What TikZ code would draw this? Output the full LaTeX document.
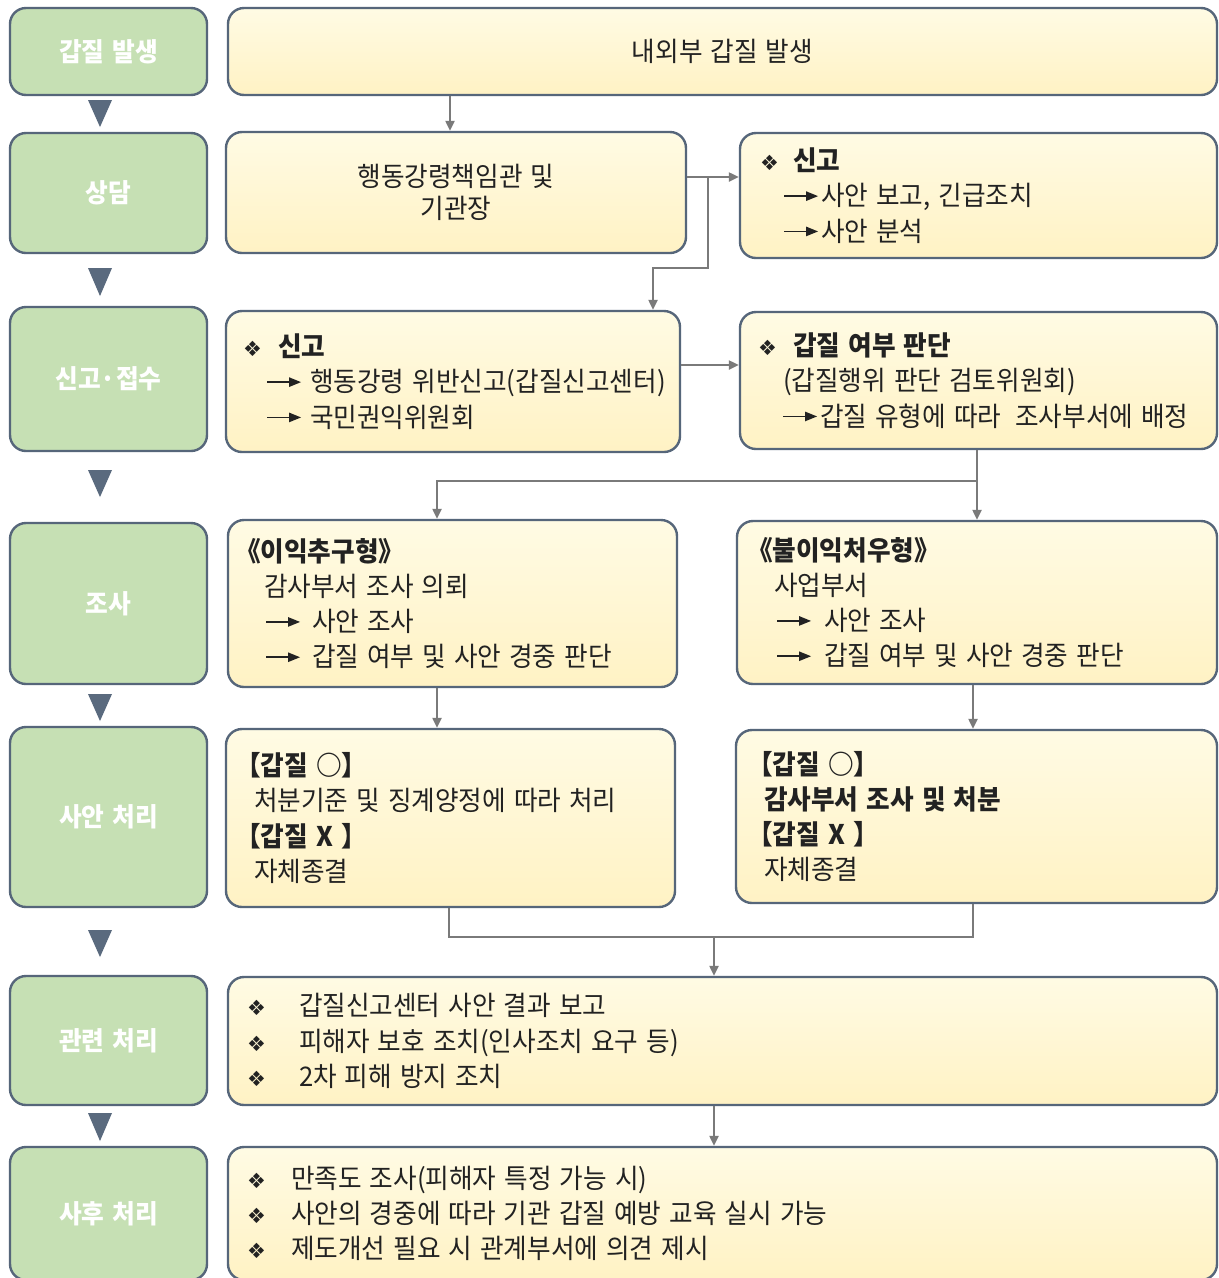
\documentclass[tikz,border=0pt]{standalone}
\usepackage{fontspec}
\setmainfont{Noto Sans CJK KR}[FakeStretch=0.95, WordSpace=1.4]
\newfontfamily\symfont{DejaVu Sans}
\usetikzlibrary{arrows.meta,calc}
\definecolor{gfill}{HTML}{C6E0B4}
\definecolor{bord}{HTML}{56667A}
\definecolor{ytop}{HTML}{FFFBE4}
\definecolor{ybot}{HTML}{FFF2C4}
\definecolor{tri}{HTML}{5A6A7E}
\definecolor{conc}{HTML}{7A7A7A}
\definecolor{txt}{HTML}{222222}
\newcommand\dia{{\symfont\fontsize{21}{21}\selectfont ❖}}
\newcommand\arr{\tikz[baseline=0pt,x=1pt,y=1pt]{\fill[txt] (0,8.8) rectangle (24,10.6); \fill[txt] (22,4.8) -- (34,9.7) -- (22,14.6) -- cycle;}}
\begin{document}
\begin{tikzpicture}[x=1pt,y=-1pt,
  stage/.style={draw=bord, line width=2.4pt, fill=gfill, rounded corners=16pt,
    minimum width=197pt, text=white, inner sep=0pt,
    font=\fontsize{26}{30}\selectfont\bfseries},
  ybox/.style={draw=bord, line width=2.4pt, top color=ytop, bottom color=ybot,
    rounded corners=16pt, text=txt, inner sep=0pt, align=center,
    font=\fontsize{27}{32}\selectfont},
  tx/.style={anchor=west, align=left, inner sep=0pt, text=txt,
    font=\fontsize{27}{35.3}\selectfont},
  conn/.style={draw=conc, line width=2.2pt, -{Triangle[length=10pt,width=9pt]}},
  plainconn/.style={draw=conc, line width=2.2pt}]
\fill[white] (0,0) rectangle (1219,1278);
\useasboundingbox (0,0) rectangle (1219,1278);

% stage column
\node[stage, minimum height=87pt]  (g1) at (108.5,51.5)  {갑질 발생};
\node[stage, minimum height=120pt] (g2) at (108.5,193)   {상담};
\node[stage, minimum height=144pt] (g3) at (108.5,379)   {신고·접수};
\node[stage, minimum height=161pt] (g4) at (108.5,603.5) {조사};
\node[stage, minimum height=180pt] (g5) at (108.5,817)   {사안 처리};
\node[stage, minimum height=129pt] (g6) at (108.5,1040.5){관련 처리};
\node[stage, minimum height=133pt] (g7) at (108.5,1213.5){사후 처리};

% triangles
\foreach \ya/\yb in {100/127,268/296,470/497,694/721,930/957,1113/1141}{
  \fill[tri] (88,\ya) -- (112,\ya) -- (100,\yb) -- cycle;}

% content boxes
\node[ybox, minimum width=989pt, minimum height=87pt]  (top) at (722.5,51.5) {내외부 갑질 발생};
\node[ybox, minimum width=460pt, minimum height=121pt] (sd)  at (456,192.5) {행동강령책임관 및\\기관장};
\node[ybox, minimum width=477pt, minimum height=125pt] (sg)  at (978.5,195.5) {};
\node[ybox, minimum width=454pt, minimum height=141pt] (sj)  at (453,381.5) {};
\node[ybox, minimum width=477pt, minimum height=137pt] (pd)  at (978.5,380.5) {};
\node[ybox, minimum width=449pt, minimum height=167pt] (ik)  at (452.5,603.5) {};
\node[ybox, minimum width=480pt, minimum height=163pt] (bl)  at (977,602.5) {};
\node[ybox, minimum width=449pt, minimum height=178pt] (sl)  at (450.5,818) {};
\node[ybox, minimum width=481pt, minimum height=173pt] (sr)  at (976.5,816.5) {};
\node[ybox, minimum width=989pt, minimum height=128pt] (gw)  at (722.5,1041) {};
\node[ybox, minimum width=989pt, minimum height=133pt] (hs)  at (722.5,1213.5) {};

% texts
\node[tx] (sgT) at ([xshift=21pt]sg.west) {\makebox[33pt][l]{\dia}\textbf{신고}\\
  \hspace*{24pt}\arr\hspace{3pt}사안 보고, 긴급조치\\
  \hspace*{24pt}\arr\hspace{3pt}사안 분석};
\node[tx] (sjT) at ([xshift=18pt]sj.west) {\makebox[35pt][l]{\dia}\textbf{신고}\\
  \hspace*{24pt}\arr\hspace{9pt}행동강령 위반신고(갑질신고센터)\\
  \hspace*{24pt}\arr\hspace{9pt}국민권익위원회};
\node[tx] (pdT) at ([xshift=19pt]pd.west) {\makebox[35pt][l]{\dia}\textbf{갑질 여부 판단}\\
  \hspace*{25pt}(갑질행위 판단 검토위원회)\\
  \hspace*{25pt}\arr\hspace{3pt}갑질 유형에 따라\hspace{14pt}조사부서에 배정};
\node[tx] (ikT) at ([xshift=17pt]ik.west) {\hspace*{-9pt}\textbf{《이익추구형》}\\
  \hspace*{20pt}감사부서 조사 의뢰\\
  \hspace*{22pt}\arr\hspace{12pt}사안 조사\\
  \hspace*{22pt}\arr\hspace{12pt}갑질 여부 및 사안 경중 판단};
\node[tx] (blT) at ([xshift=20pt]bl.west) {\hspace*{-9pt}\textbf{《불이익처우형》}\\
  \hspace*{18pt}사업부서\\
  \hspace*{21pt}\arr\hspace{13pt}사안 조사\\
  \hspace*{21pt}\arr\hspace{13pt}갑질 여부 및 사안 경중 판단};
\node[tx] (slT) at ([xshift=19pt]sl.west) {\hspace*{-9pt}\textbf{【갑질 ○】}\\
  \hspace*{10pt}처분기준 및 징계양정에 따라 처리\\
  \hspace*{-9pt}\textbf{【갑질 X 】}\\
  \hspace*{10pt}자체종결};
\node[tx] (srT) at ([xshift=21pt]sr.west) {\hspace*{-9pt}\textbf{【갑질 ○】}\\
  \hspace*{8pt}\textbf{감사부서 조사 및 처분}\\
  \hspace*{-9pt}\textbf{【갑질 X 】}\\
  \hspace*{8pt}자체종결};
\node[tx] (gwT) at ([xshift=20pt]gw.west) {\makebox[52pt][l]{\dia}갑질신고센터 사안 결과 보고\\
  \makebox[52pt][l]{\dia}피해자 보호 조치(인사조치 요구 등)\\
  \makebox[52pt][l]{\dia}2차 피해 방지 조치};
\node[tx] (hsT) at ([xshift=20pt]hs.west) {\makebox[44pt][l]{\dia}만족도 조사(피해자 특정 가능 시)\\
  \makebox[44pt][l]{\dia}사안의 경중에 따라 기관 갑질 예방 교육 실시 가능\\
  \makebox[44pt][l]{\dia}제도개선 필요 시 관계부서에 의견 제시};

% helper coordinates
\coordinate (c450) at (450,0);
\coordinate (r177) at (0,177);
\coordinate (j708) at (708,177);
\coordinate (k653) at (653,268);
\coordinate (r365) at (0,365);
\coordinate (c977) at (977,0);
\coordinate (j481) at (977,481);
\coordinate (c437) at (437,0);
\coordinate (c973) at (973,0);
\coordinate (c449) at (449,0);
\coordinate (m937) at (973,937);
\coordinate (j714) at (714,937);

% connectors
\draw[conn] (top.south -| c450) -- (sd.north -| c450);
\draw[conn] (sd.east |- r177) -- (sg.west |- r177);
\draw[conn] (j708) |- (k653) -- (sj.north -| k653);
\draw[conn] (sj.east |- r365) -- (pd.west |- r365);
\draw[conn] (pd.south -| c977) -- (bl.north -| c977);
\draw[conn] (j481) -| (ik.north -| c437);
\draw[conn] (ik.south -| c437) -- (sl.north -| c437);
\draw[conn] (bl.south -| c973) -- (sr.north -| c973);
\draw[plainconn] (sl.south -| c449) |- (m937) -- (sr.south -| c973);
\draw[conn] (j714) -- (gw.north -| j714);
\draw[conn] (gw.south -| j714) -- (hs.north -| j714);
\end{tikzpicture}
\end{document}
